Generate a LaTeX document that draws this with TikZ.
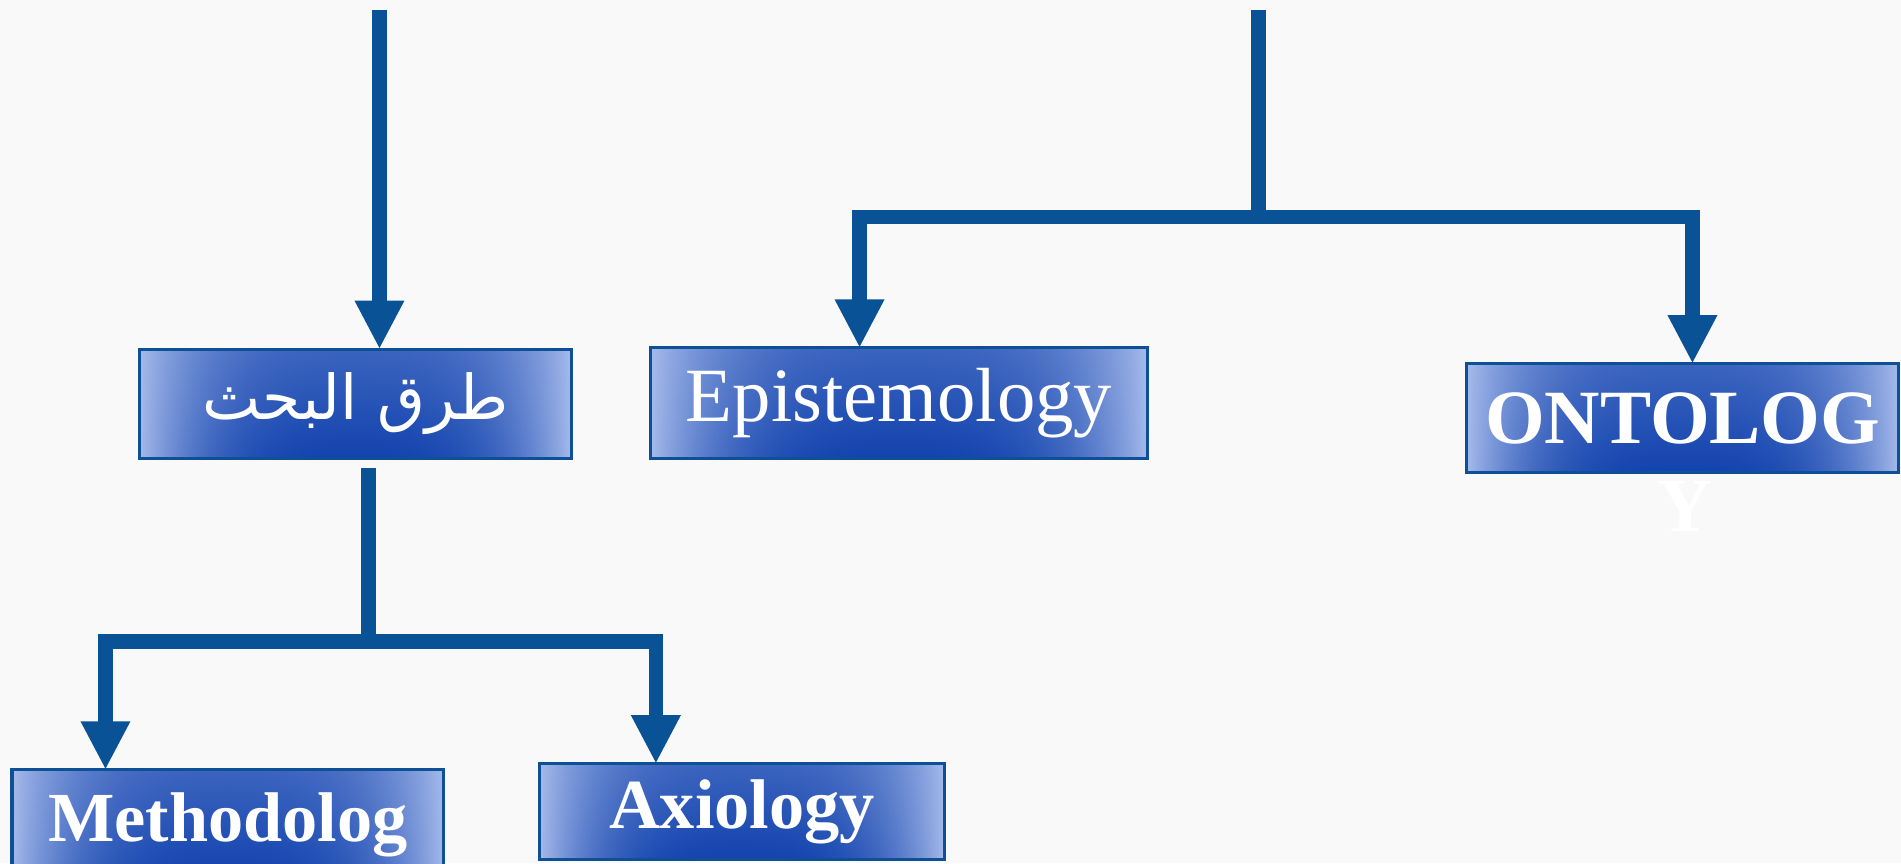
\documentclass[tikz,border=0pt]{standalone}
\usepackage{fontspec}
\setmainfont{Liberation Serif}
\newfontfamily\arabicfont[Script=Arabic]{DejaVu Sans}
\TeXXeTstate=1
\usetikzlibrary{arrows.meta}
\definecolor{conn}{RGB}{10,82,150}
\definecolor{boxedge}{RGB}{14,80,150}
\definecolor{bgcol}{RGB}{249,249,249}
% light edges, medium top centre, dark bottom centre
\pgfdeclarefunctionalshading{boxsh}{\pgfpoint{-50bp}{-50bp}}{\pgfpoint{50bp}{50bp}}{}{
  25 exch sub 50 div
  0.28 mul 0.72 add
  exch abs 25 div
  dup 1 gt {pop 1} if
  dup dup mul mul
  1 exch sub
  mul
  dup dup
  -0.58 mul 0.65 add
  3 1 roll
  -0.47 mul 0.73 add
  exch
  -0.24 mul 0.92 add
}
\begin{document}
\begin{tikzpicture}[x=0.01cm,y=-0.01cm,
  box/.style={draw=boxedge, line width=0.025cm, shade, shading=boxsh,
    text=white, inner sep=0pt, outer sep=0pt},
  line/.style={draw=conn, line width=0.12cm},
  arrowline/.style={line, -{Triangle[width=0.38cm,length=0.40cm]}},
]
\useasboundingbox (0,0) rectangle (1568,712);
\clip (0,0) rectangle (1568,712);
\fill[bgcol] (0,0) rectangle (1568,712);

% boxes
\node[box, minimum width=3.56cm, minimum height=0.90cm] (arab) at (293,333)
  {\fontsize{14.5}{18}\arabicfont\beginR طرق البحث\endR};
\node[box, minimum width=4.09cm, minimum height=0.91cm] (epi) at (741.5,332.5)
  {\fontsize{18}{22}\selectfont Epistemology};
\node[box, minimum width=3.56cm, minimum height=0.90cm] (onto) at (1388,345)
  {\fontsize{18}{22}\selectfont\bfseries ONTOLOG};
\node[text=white, inner sep=0pt, font=\fontsize{18}{22}\selectfont\bfseries] (ontoY) at (1390,418) {Y};
\node[box, minimum width=3.56cm, minimum height=0.90cm] (meth) at (188,680)
  {\fontsize{16.5}{20}\selectfont\bfseries Methodolog};
\node[box, minimum width=3.34cm, minimum height=0.79cm] (axio) at (612,669.5)
  {\fontsize{16.5}{20}\selectfont\bfseries Axiology};

% connectors
\coordinate (tL) at (313,8);
\draw[arrowline] (tL) -- (tL |- arab.north);

\coordinate (tR) at (1038,8);
\coordinate (jR) at (1038,179);
\coordinate (bE) at (709,179);
\coordinate (bO) at (1396,179);
\draw[line] (tR) -- (jR);
\draw[arrowline] (jR) -- (bE) -- (bE |- epi.north);
\draw[arrowline] (jR) -- (bO) -- (bO |- onto.north);

\coordinate (jL) at (304,529);
\coordinate (bM) at (87,529);
\coordinate (bA) at (541,529);
\draw[line, shorten <=0.08cm] (arab.south -| jL) -- (jL);
\draw[arrowline] (jL) -- (bM) -- (bM |- meth.north);
\draw[arrowline] (jL) -- (bA) -- (bA |- axio.north);
\end{tikzpicture}
\end{document}
